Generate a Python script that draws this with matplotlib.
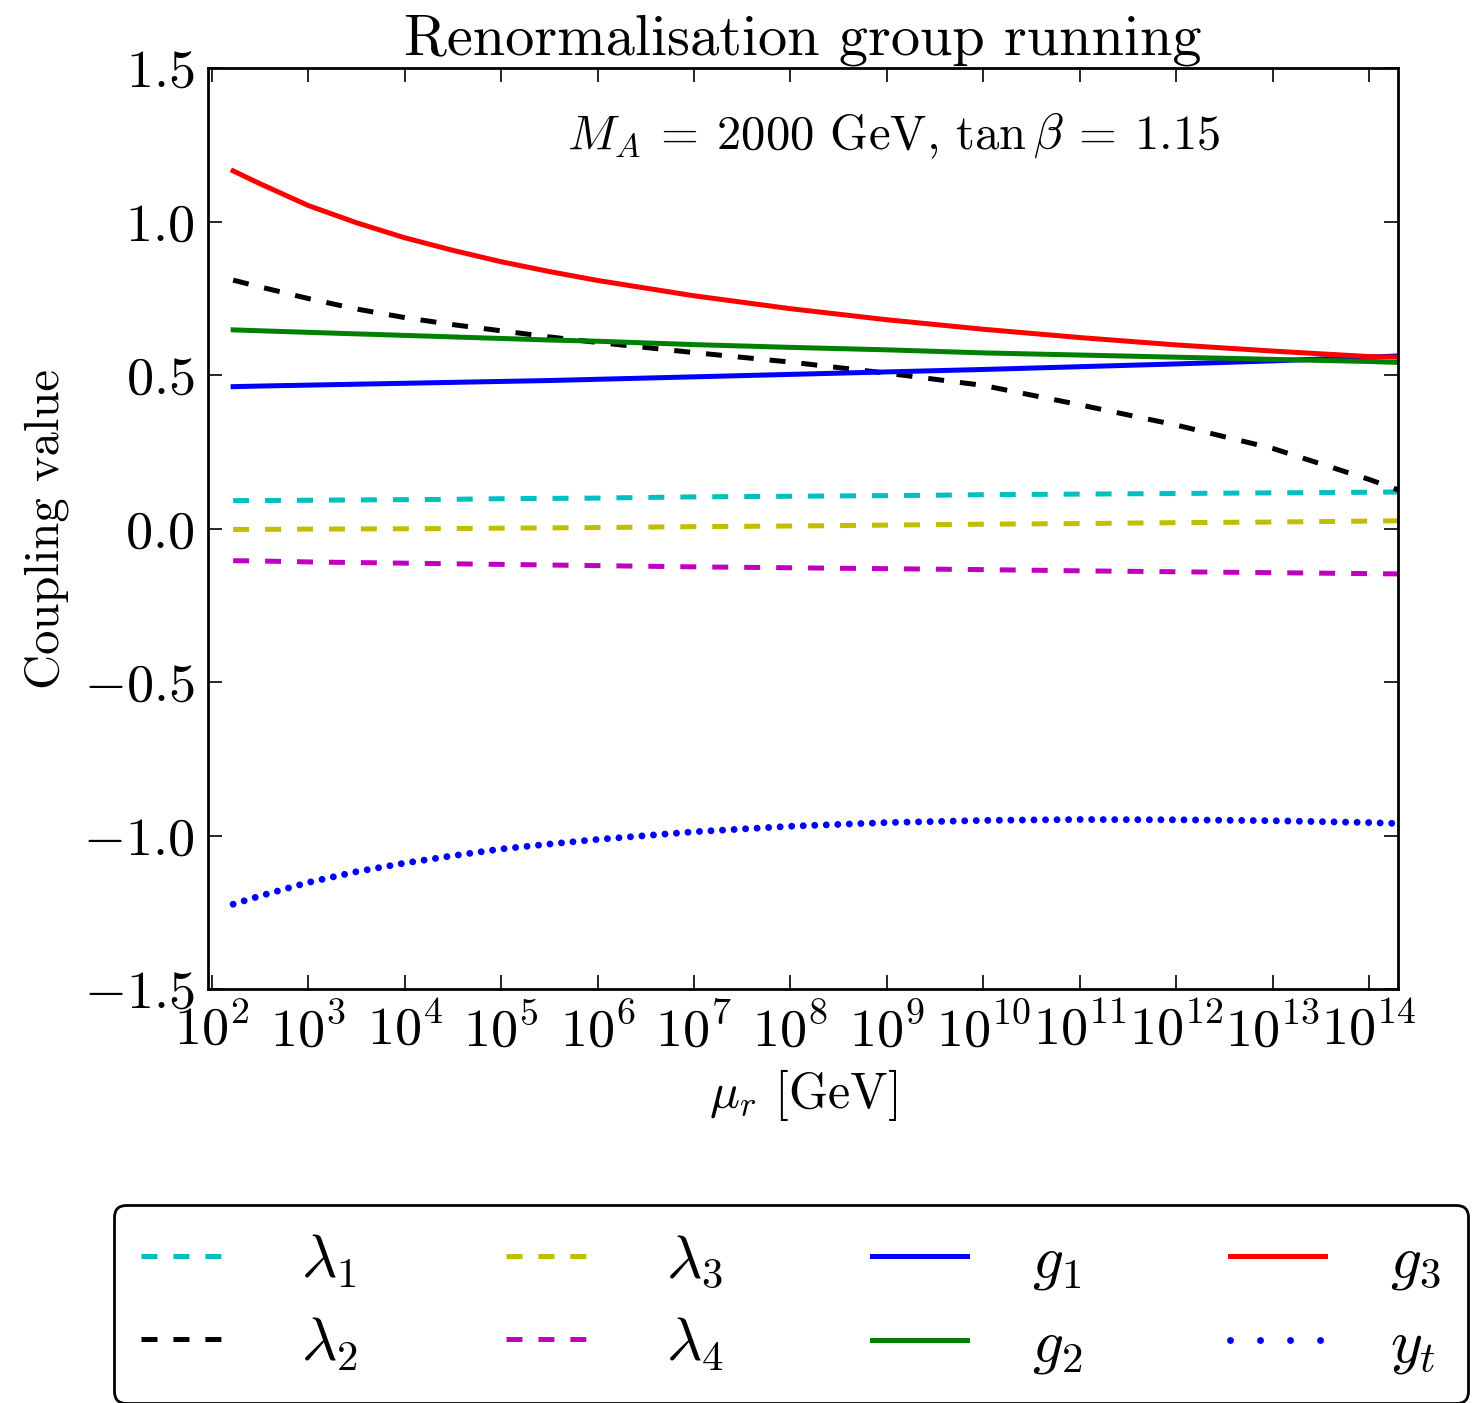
import matplotlib
matplotlib.use("Agg")
import matplotlib.pyplot as plt
from matplotlib.lines import Line2D

plt.rcParams['font.family'] = 'serif'
plt.rcParams['font.serif'] = ['cmr10']
plt.rcParams['mathtext.fontset'] = 'cm'
plt.rcParams['axes.formatter.use_mathtext'] = True
plt.rcParams['axes.unicode_minus'] = True
plt.rcParams['lines.scale_dashes'] = False

# renormalisation scale [GeV] and couplings
mu = [166, 316, 1e3, 3.16e3, 1e4, 3.16e4, 1e5, 3.16e5, 1e6, 1e7, 1e8, 1e9, 1e10,
      1e11, 1e12, 1e13, 1e14, 2e14]
lam1 = [0.092, 0.092, 0.093, 0.094, 0.095, 0.096, 0.098, 0.099, 0.100, 0.104, 0.106,
        0.108, 0.111, 0.113, 0.115, 0.117, 0.119, 0.120]
lam2 = [0.810, 0.788, 0.750, 0.716, 0.688, 0.665, 0.645, 0.625, 0.607, 0.574, 0.543,
        0.507, 0.467, 0.404, 0.338, 0.262, 0.161, 0.127]
lam3 = [-0.002, -0.002, -0.001, -0.0005, 0.000, 0.001, 0.002, 0.003, 0.004, 0.007, 0.009,
        0.012, 0.015, 0.017, 0.020, 0.022, 0.025, 0.026]
lam4 = [-0.104, -0.105, -0.108, -0.110, -0.112, -0.114, -0.116, -0.118, -0.120, -0.124,
        -0.127, -0.130, -0.133, -0.137, -0.140, -0.143, -0.146, -0.147]
g1 = [0.463, 0.465, 0.468, 0.471, 0.474, 0.477, 0.480, 0.483, 0.487, 0.495, 0.503,
      0.511, 0.519, 0.528, 0.537, 0.547, 0.559, 0.563]
g2 = [0.648, 0.645, 0.640, 0.635, 0.630, 0.625, 0.620, 0.615, 0.611, 0.600, 0.591,
      0.583, 0.573, 0.566, 0.559, 0.552, 0.545, 0.542]
g3 = [1.166, 1.124, 1.053, 0.997, 0.948, 0.907, 0.870, 0.838, 0.809, 0.759, 0.717,
      0.681, 0.650, 0.623, 0.599, 0.579, 0.561, 0.559]
yt = [-1.223, -1.196, -1.152, -1.117, -1.089, -1.065, -1.043, -1.027, -1.012, -0.987,
      -0.969, -0.957, -0.950, -0.947, -0.948, -0.951, -0.957, -0.960]

labels = [r'$\lambda_1$', r'$\lambda_2$', r'$\lambda_3$', r'$\lambda_4$',
          r'$g_1$', r'$g_2$', r'$g_3$', r'$y_t$']

fig = plt.figure(figsize=(14.77, 14.03), dpi=100)
ax = fig.add_axes([0.1408, 0.2949, 0.8057, 0.6564])

lw = 3.6
dash = (11.5, 11.5)
ax.plot(mu, lam1, color='c', lw=lw, dashes=dash)
ax.plot(mu, lam2, color='k', lw=lw, dashes=dash)
ax.plot(mu, lam3, color='y', lw=lw, dashes=dash)
ax.plot(mu, lam4, color='m', lw=lw, dashes=dash)
ax.plot(mu, g1, color='b', lw=lw)
ax.plot(mu, g2, color='g', lw=lw)
ax.plot(mu, g3, color='r', lw=lw)
ax.plot(mu, yt, color='b', lw=5, dashes=(0.01, 8.3), dash_capstyle='round')

ax.set_xscale('log')
ax.set_xlim(91, 2e14)
ax.set_ylim(-1.5, 1.5)
ax.set_xticks([10.0**k for k in range(2, 15)])
ax.minorticks_off()
ax.set_yticks([-1.5, -1.0, -0.5, 0.0, 0.5, 1.0, 1.5])
ax.tick_params(direction='in', length=10, width=1.2, top=True, right=True,
               labelsize=39, pad=10)
for s in ax.spines.values():
    s.set_linewidth(2)

ax.set_title('Renormalisation group running', fontsize=42, pad=10)
ax.set_xlabel(r'$\mu_r$ [GeV]', fontsize=36, labelpad=8)
ax.set_ylabel('Coupling value', fontsize=35, labelpad=10)
ax.text(0.576, 0.927, r'$M_A\:=\:2000$ GeV, $\tan\beta\:=\:1.15$', transform=ax.transAxes,
        ha='center', va='center', fontsize=35)

# legend handles (dot spacing in the legend is wider than in the plot)
handles = [
    Line2D([], [], color='c', lw=lw, dashes=dash),
    Line2D([], [], color='k', lw=lw, dashes=dash),
    Line2D([], [], color='y', lw=lw, dashes=dash),
    Line2D([], [], color='m', lw=lw, dashes=dash),
    Line2D([], [], color='b', lw=lw),
    Line2D([], [], color='g', lw=lw),
    Line2D([], [], color='r', lw=lw),
    Line2D([], [], color='b', lw=5, dashes=(0.01, 21.6), dash_capstyle='round'),
]
leg = ax.legend(handles, labels, ncol=4, loc='upper center',
                bbox_to_anchor=(791 / 1477, 1 - 1205 / 1403), bbox_transform=fig.transFigure,
                borderaxespad=0, fontsize=44, handlelength=1.55, handletextpad=1.07,
                columnspacing=2.42, borderpad=0.45, labelspacing=0.42, fancybox=True,
                framealpha=1)
leg.get_frame().set_edgecolor('black')
leg.get_frame().set_linewidth(2)

fig.savefig('out.png', dpi=100, facecolor='white')
